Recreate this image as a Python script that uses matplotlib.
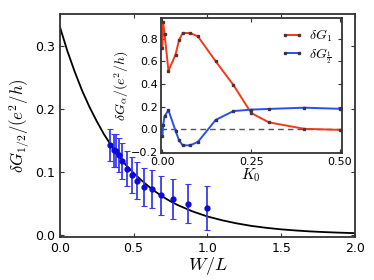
import matplotlib
matplotlib.use("Agg")
import matplotlib.pyplot as plt

plt.rcParams['mathtext.fontset'] = 'cm'
plt.rcParams['xtick.direction'] = 'in'
plt.rcParams['ytick.direction'] = 'in'
plt.rcParams['xtick.top'] = True
plt.rcParams['ytick.right'] = True

# main panel: fitted decay curve
curve_x = [0.0, 0.05, 0.1, 0.15, 0.2, 0.25, 0.3, 0.35, 0.4, 0.45, 0.5, 0.55, 0.6, 0.65,
           0.7, 0.75, 0.8, 0.85, 0.9, 0.95, 1.0, 1.1, 1.2, 1.3, 1.4, 1.5, 1.6, 1.7, 1.8, 1.9, 2.0]
curve_y = [0.330, 0.292, 0.259, 0.229, 0.203, 0.180, 0.159, 0.141, 0.125, 0.110, 0.098, 0.087,
           0.077, 0.068, 0.060, 0.053, 0.047, 0.042, 0.037, 0.033, 0.029, 0.023, 0.018, 0.014,
           0.011, 0.0086, 0.0068, 0.0053, 0.0042, 0.0033, 0.0026]

# main panel: simulation points with error bars
wl = [0.338, 0.365, 0.383, 0.399, 0.423, 0.455, 0.489, 0.523, 0.572, 0.626, 0.687, 0.768, 0.868, 1.0]
dg = [0.142, 0.134, 0.133, 0.127, 0.117, 0.105, 0.0945, 0.086, 0.076, 0.073, 0.0626, 0.057, 0.049, 0.0425]
dg_err = [0.025, 0.026, 0.026, 0.027, 0.028, 0.028, 0.029, 0.029, 0.030, 0.030, 0.031, 0.032, 0.031, 0.035]

# inset: dG vs K0
k0 = [0.0, 0.002, 0.006, 0.017, 0.037, 0.047, 0.057, 0.078, 0.1, 0.15, 0.2, 0.25, 0.3, 0.4, 0.5]
dg1 = [0.72, 0.945, 0.843, 0.515, 0.66, 0.79, 0.85, 0.85, 0.82, 0.60, 0.39, 0.143, 0.06, 0.003, -0.006]
dg_half = [-0.06, 0.036, 0.115, 0.167, -0.015, -0.10, -0.143, -0.143, -0.112, 0.082, 0.16, 0.173, 0.179, 0.19, 0.18]

fig = plt.figure(figsize=(3.74, 2.80), dpi=100)
ax = fig.add_axes([0.160, 0.1525, 0.789, 0.7975])

ax.plot(curve_x, curve_y, color='black', lw=1.3)
ax.errorbar(wl, dg, yerr=dg_err, fmt='o', color='#0a0adc', ms=3.5,
            ecolor='#3a3af0', elinewidth=1.3, capsize=2, capthick=0.8)

ax.set_xlim(0, 2.0)
ax.set_ylim(-0.004, 0.35)
ax.set_xticks([0.0, 0.5, 1.0, 1.5, 2.0])
ax.set_yticks([0.0, 0.1, 0.2, 0.3])
ax.tick_params(labelsize=9, length=3, width=0.8, color='#333333')
ax.set_xlabel('$W/L$', fontsize=13, labelpad=0)
ax.set_ylabel('$\\delta G_{1/2}/(e^2/h)$', fontsize=12, labelpad=2)
for s in ax.spines.values():
    s.set_linewidth(1.3)
    s.set_color('#333333')

# inset
axi = fig.add_axes([0.4305, 0.4546, 0.4832, 0.480])
axi.axhline(0, color='#555555', ls='--', lw=1.0, dashes=(4, 3))
axi.plot(k0, dg1, color='#f03a1a', lw=1.4, marker='s', ms=1.8,
         mfc='#553333', mec='#553333', label='$\\delta G_1$')
axi.plot(k0, dg_half, color='#2a4ff0', lw=1.4, marker='s', ms=1.8,
         mfc='#333355', mec='#333355', label='$\\delta G_{\\frac{1}{2}}$')
axi.set_xlim(-0.004, 0.505)
axi.set_ylim(-0.208, 0.98)
axi.set_xticks([0.0, 0.25, 0.5])
axi.set_xticklabels(['0.00', '0.25', '0.50'])
axi.set_yticks([-0.2, 0.0, 0.2, 0.4, 0.6, 0.8])
axi.tick_params(labelsize=8, length=3, width=0.8, color='#333333', pad=2)
axi.tick_params(axis='x', pad=3)
axi.set_xlabel('$K_0$', fontsize=11, labelpad=0)
axi.set_ylabel('$\\delta G_\\alpha/(e^2/h)$', fontsize=10, labelpad=0)
for s in axi.spines.values():
    s.set_linewidth(1.3)
    s.set_color('#333333')
axi.legend(loc='upper right', frameon=False, fontsize=10, numpoints=2,
           handlelength=1.6, borderpad=0.2, labelspacing=0.1, handletextpad=0.4)

fig.savefig('out.png', dpi=100)
